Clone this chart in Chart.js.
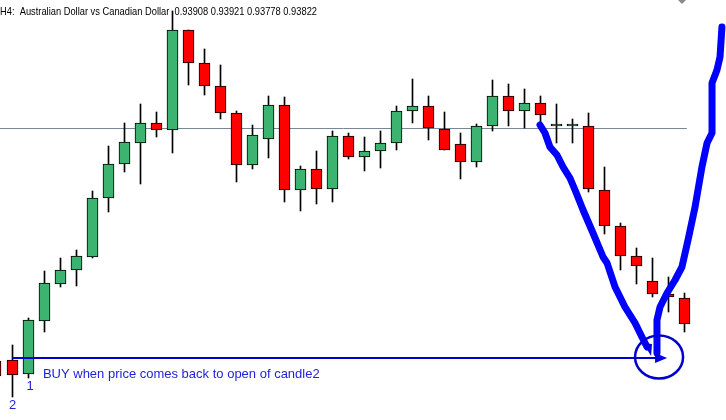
<!DOCTYPE html>
<html>
<head>
<meta charset="utf-8">
<script src="https://cdn.jsdelivr.net/npm/chart.js@4/dist/chart.umd.min.js"></script>
<style>
  html, body { margin: 0; padding: 0; background: #fff; }
  #wrap { position: relative; width: 726px; height: 420px; }
</style>
</head>
<body>
<div id="wrap"><canvas id="candles"></canvas></div>
<script>
// AUDCAD H4 candles (first one is cut by the left edge)
const candleIndex = [-1.0625, 0, 1, 2, 3, 4, 5, 6, 7, 8, 9, 10, 11, 12, 13, 14, 15, 16, 17, 18, 19, 20,
  21, 22, 23, 24, 25, 26, 27, 28, 29, 30, 31, 32, 33, 34, 35, 36, 37, 38, 39, 40, 41, 42];
const opens = [0.93656, 0.93660, 0.93604, 0.93816, 0.93964, 0.94020, 0.94072, 0.94308, 0.94444, 0.94528,
  0.94608, 0.94580, 0.94980, 0.94848, 0.94756, 0.94648, 0.94440, 0.94544, 0.94680, 0.94340, 0.94424,
  0.94344, 0.94556, 0.94472, 0.94496, 0.94528, 0.94656, 0.94676, 0.94584, 0.94524, 0.94452, 0.94596,
  0.94716, 0.94656, 0.94688, 0.94596, 0.94596, 0.94596, 0.94340, 0.94196, 0.94076, 0.93976, 0.93924, 0.93908];
const highs = [0.93680, 0.93720, 0.93828, 0.94016, 0.94068, 0.94100, 0.94336, 0.94516, 0.94608, 0.94684,
  0.94652, 0.95056, 0.94980, 0.94904, 0.94840, 0.94656, 0.94600, 0.94716, 0.94712, 0.94436, 0.94496,
  0.94576, 0.94568, 0.94552, 0.94576, 0.94676, 0.94784, 0.94716, 0.94652, 0.94568, 0.94604, 0.94780,
  0.94764, 0.94744, 0.94716, 0.94684, 0.94624, 0.94648, 0.94432, 0.94208, 0.94108, 0.94068, 0.93992, 0.93928];
const lows = [0.93580, 0.93512, 0.93588, 0.93772, 0.93952, 0.93956, 0.94068, 0.94252, 0.94412, 0.94364,
  0.94552, 0.94488, 0.94760, 0.94720, 0.94624, 0.94372, 0.94424, 0.94468, 0.94292, 0.94256, 0.94284,
  0.94292, 0.94464, 0.94416, 0.94428, 0.94500, 0.94608, 0.94540, 0.94500, 0.94384, 0.94432, 0.94576,
  0.94596, 0.94588, 0.94612, 0.94528, 0.94528, 0.94332, 0.94164, 0.94020, 0.93964, 0.93912, 0.93852, 0.93772];
const closes = [0.93596, 0.93600, 0.93820, 0.93968, 0.94020, 0.94076, 0.94308, 0.94444, 0.94532, 0.94608,
  0.94580, 0.94980, 0.94848, 0.94756, 0.94648, 0.94440, 0.94560, 0.94680, 0.94340, 0.94424, 0.94344,
  0.94556, 0.94472, 0.94496, 0.94528, 0.94656, 0.94676, 0.94588, 0.94500, 0.94452, 0.94596, 0.94716,
  0.94656, 0.94688, 0.94640, 0.94596, 0.94596, 0.94344, 0.94196, 0.94076, 0.94036, 0.93924, 0.93912, 0.93804];

const headerText = 'H4:  Australian Dollar vs Canadian Dollar  0.93908 0.93921 0.93778 0.93822';
const buyText = 'BUY when price comes back to open of candle2';
const greyLevel = 0.94586;   // horizontal line across the chart
const buyLevel = 0.93668;    // open of candle 2

// hand drawn arrows, in [candle index, price]
const downStroke = [[32.97, 0.94600], [33.28, 0.94568], [33.59, 0.94512], [34.03, 0.94480], [34.41, 0.94432],
  [34.84, 0.94388], [35.16, 0.94340], [35.66, 0.94260], [36.28, 0.94168], [36.91, 0.94072], [37.16, 0.94048],
  [37.66, 0.93952], [38.28, 0.93872], [38.91, 0.93808], [39.34, 0.93752], [39.66, 0.93712]];
const downHead = [[39.41, 0.93728], [39.97, 0.93724], [39.91, 0.93676]];
const upStroke = [[40.28, 0.93688], [40.28, 0.93820], [40.47, 0.93872], [40.91, 0.93928], [41.41, 0.93980],
  [41.84, 0.94032], [42.22, 0.94140], [42.66, 0.94272], [43.09, 0.94432], [43.41, 0.94528], [43.72, 0.94568],
  [43.72, 0.94660], [43.72, 0.94768], [44.03, 0.94820], [44.22, 0.94872], [44.34, 0.94992]];
const rightHead = [[40.16, 0.93688], [40.16, 0.93648], [40.91, 0.93668]];
const ring = { x: 40.41, y: 0.93672, rx: 1.5, ry: 0.00086 };

const green = '#3cb371';
const red = '#ff0000';

const bodies = candleIndex.map((x, i) => ({ x: x, y: [opens[i], closes[i]] }));
const wicks = candleIndex.map((x, i) => ({ x: x, y: [lows[i], highs[i]] }));
const bodyColors = candleIndex.map((x, i) => closes[i] >= opens[i] ? green : red);

const annotations = {
  id: 'annotations',
  afterDatasetsDraw(chart) {
    const ctx = chart.ctx;
    const xs = chart.scales.x, ys = chart.scales.y;
    const px = p => [xs.getPixelForValue(p[0]), ys.getPixelForValue(p[1])];

    ctx.save();
    ctx.lineCap = 'round';
    ctx.lineJoin = 'round';
    ctx.strokeStyle = '#0000ff';
    ctx.lineWidth = 7;
    [downStroke, upStroke].forEach(path => {
      ctx.beginPath();
      path.forEach((p, i) => {
        const [a, b] = px(p);
        i ? ctx.lineTo(a, b) : ctx.moveTo(a, b);
      });
      ctx.stroke();
    });

    ctx.fillStyle = '#0000e0';
    [downHead, rightHead].forEach(tri => {
      ctx.beginPath();
      tri.forEach((p, i) => {
        const [a, b] = px(p);
        i ? ctx.lineTo(a, b) : ctx.moveTo(a, b);
      });
      ctx.closePath();
      ctx.fill();
    });

    const [cx, cy] = px([ring.x, ring.y]);
    const rx = Math.abs(xs.getPixelForValue(ring.x + ring.rx) - cx);
    const ry = Math.abs(ys.getPixelForValue(ring.y + ring.ry) - cy);
    ctx.beginPath();
    ctx.ellipse(cx, cy, rx, ry, 0, 0, Math.PI * 2);
    ctx.strokeStyle = '#0000cc';
    ctx.lineWidth = 2.5;
    ctx.stroke();

    // texts
    ctx.fillStyle = '#2222dd';
    ctx.font = '13px "Liberation Sans", Arial, sans-serif';
    ctx.textBaseline = 'alphabetic';
    ctx.textAlign = 'left';
    ctx.fillText(buyText, xs.getPixelForValue(1.9), ys.getPixelForValue(0.93588));
    ctx.textAlign = 'center';
    ctx.fillText('2', xs.getPixelForValue(0), ys.getPixelForValue(0.93464));
    ctx.fillText('1', xs.getPixelForValue(1.1), ys.getPixelForValue(0.93540));

    // header, squeezed to the narrow terminal font width
    ctx.textAlign = 'left';
    ctx.fillStyle = '#000';
    ctx.font = '11px "Liberation Sans", Arial, sans-serif';
    const squeeze = 317 / ctx.measureText(headerText).width;
    ctx.save();
    ctx.scale(squeeze, 1);
    ctx.fillText(headerText, 0, 15);
    ctx.restore();

    // little grey marker at the top edge
    ctx.fillStyle = '#8a8a8a';
    ctx.beginPath();
    ctx.moveTo(678, 0); ctx.lineTo(686, 0); ctx.lineTo(682, 4);
    ctx.closePath();
    ctx.fill();
    ctx.restore();
  }
};

new Chart(document.getElementById('candles'), {
  type: 'bar',
  data: {
    datasets: [
      {
        label: 'body',
        data: bodies,
        backgroundColor: bodyColors,
        borderColor: '#000',
        borderWidth: 1,
        borderSkipped: false,
        barThickness: 11,
        minBarLength: 2,
        grouped: false,
        order: 1
      },
      {
        label: 'wick',
        data: wicks,
        backgroundColor: '#000',
        borderWidth: 0,
        barThickness: 1,
        grouped: false,
        order: 2
      },
      {
        type: 'line',
        label: 'level',
        data: [{ x: -0.78125, y: greyLevel }, { x: 42.15, y: greyLevel }],
        borderColor: '#778899',
        borderWidth: 1,
        pointRadius: 0,
        order: 3
      },
      {
        type: 'line',
        label: 'buy',
        data: [{ x: 0, y: buyLevel }, { x: 40.3, y: buyLevel }],
        borderColor: '#0000cc',
        borderWidth: 2,
        pointRadius: 0,
        order: 0
      }
    ]
  },
  options: {
    responsive: true,
    maintainAspectRatio: false,
    animation: false,
    layout: { padding: 0 },
    plugins: { legend: { display: false }, tooltip: { enabled: false } },
    scales: {
      x: { type: 'linear', min: -0.78125, max: 44.59375, offset: false, display: false },
      y: { type: 'linear', min: 0.93420, max: 0.95100, display: false }
    }
  },
  plugins: [annotations]
});
</script>
</body>
</html>
